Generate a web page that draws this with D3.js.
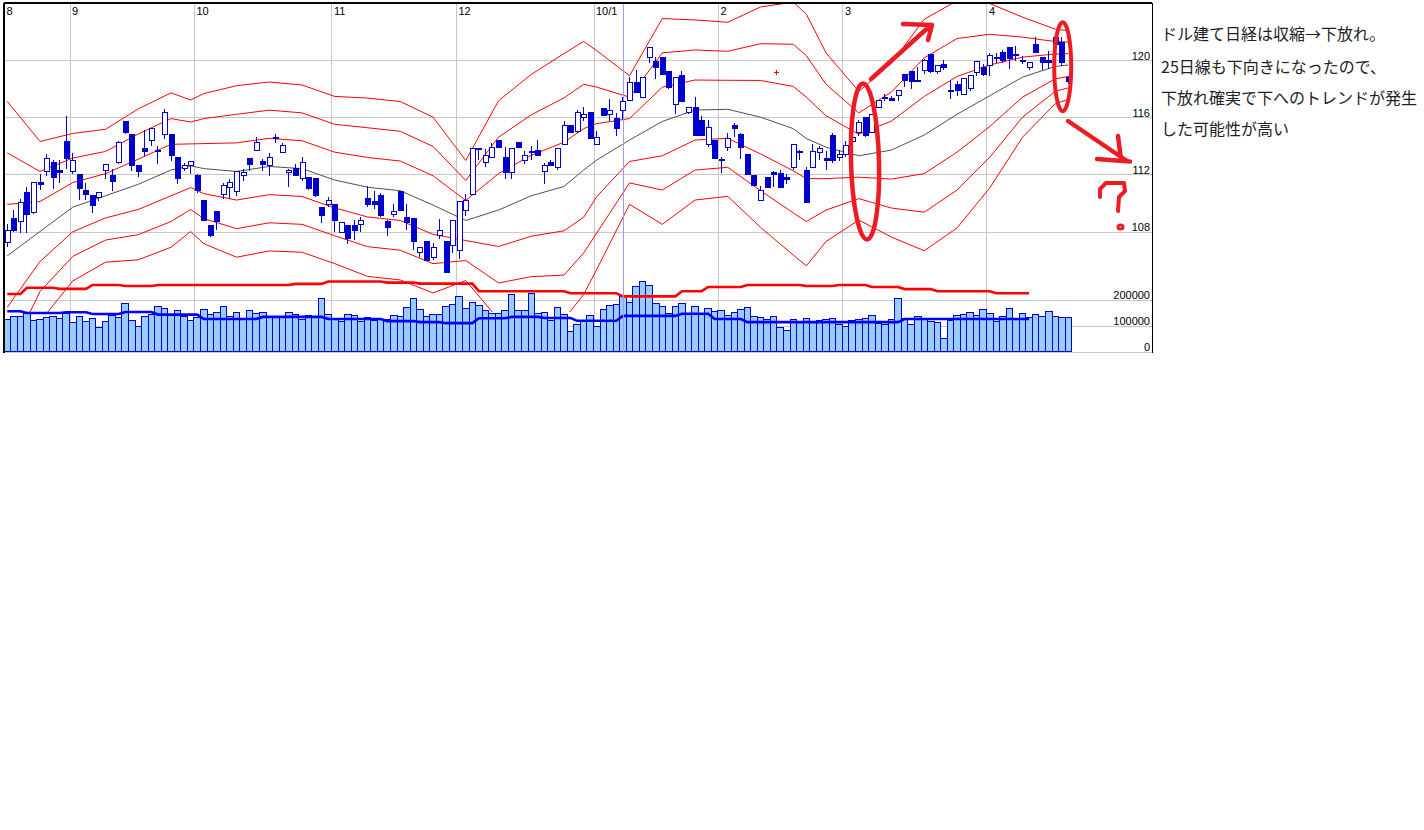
<!DOCTYPE html>
<html><head><meta charset="utf-8">
<script src="https://cdn.jsdelivr.net/npm/d3@7"></script>
<style>body{margin:0;background:#fff;}svg{display:block;}</style>
</head><body>
<script>
// ---------------- DATA ----------------
const monthIdx = [0,10,29,50,69,90,109,128,150];
const monthLabels = ["8","9","10","11","12","10/1","2","3","4"];
const priceTicks = [108,112,116,120];
const volumeTicks = [0,100000,200000];

const openP = [
107.2,108.9,108.7,110.7,109.3,111.4,112.2,112.8,112.3,114.3,
112.2,112.0,110.9,110.5,110.4,112.3,111.9,112.8,115.7,114.8,
112.6,113.8,114.4,113.7,114.8,114.8,113.2,112.4,112.6,111.9,
110.2,108.4,109.4,110.6,111.1,110.8,111.9,113.1,113.7,112.9,
112.6,114.5,113.5,112.1,112.4,111.7,111.8,111.7,109.7,109.9,
109.9,107.9,108.4,108.4,108.5,110.3,110.1,110.5,108.7,109.2,
110.8,109.0,108.9,106.5,107.3,106.2,107.7,107.3,107.0,106.7,
109.5,110.6,113.75,112.8,113.2,114.4,113.2,112.1,114.2,113.0,
113.55,113.7,112.2,112.8,112.5,114.1,115.4,115.0,116.0,116.3,
114.1,116.6,116.2,115.9,116.5,117.2,118.4,117.4,120.2,119.9,
120.2,119.2,116.9,118.9,116.3,116.7,115.8,114.1,114.4,113.05,
113.9,115.4,114.8,113.4,111.9,110.2,111.8,112.1,112.05,111.8,
112.5,113.6,112.3,112.5,113.5,113.1,114.7,113.2,113.4,114.3,
114.9,116.0,114.9,116.7,117.35,117.3,117.5,119.0,119.2,118.6,
119.3,120.4,119.2,119.7,117.9,118.3,117.6,118.0,119.1,119.5,
119.6,120.15,120.5,120.9,120.35,120.0,119.5,121.05,120.2,119.95,
121.6,121.2,118.8];
const highP = [
108.5,109.5,110.3,111.1,111.4,112.0,113.4,113.0,113.0,116.1,
113.5,112.0,111.4,110.5,110.7,112.7,112.4,114.3,115.7,114.8,
112.6,115.1,115.2,114.0,116.6,114.8,113.2,112.8,112.9,112.0,
110.2,108.4,109.4,111.4,111.7,112.2,112.4,113.1,114.6,113.1,
113.5,114.8,114.2,112.4,112.7,113.2,111.8,111.7,109.7,110.4,
109.9,108.6,108.4,108.8,109.0,111.2,110.8,110.7,108.8,109.9,
110.8,109.9,108.9,106.9,107.3,107.2,108.9,107.3,108.8,110.1,
110.6,113.8,113.8,113.8,114.2,114.4,113.9,113.8,114.2,113.6,
114.0,114.4,112.8,113.0,113.8,115.7,115.4,116.5,116.7,116.3,
115.0,116.6,117.3,116.3,117.4,118.8,119.3,118.8,120.9,120.2,
120.2,119.2,118.8,119.2,116.7,117.4,116.1,115.8,114.4,113.2,
114.9,115.6,114.9,113.4,111.9,111.2,111.8,112.2,112.3,112.0,
114.1,113.7,112.5,114.1,114.0,113.6,114.9,113.7,114.3,114.6,
115.8,116.0,116.2,117.2,117.6,117.5,117.9,119.0,119.2,119.5,
120.1,120.4,119.6,120.0,118.6,118.5,118.7,118.9,119.9,119.7,
120.5,120.5,120.7,120.9,121.0,120.3,119.8,121.6,120.2,120.6,
121.7,121.6,118.9];
const lowP = [
106.9,108.0,107.9,107.9,109.2,110.9,111.9,111.0,111.4,112.4,
112.0,110.2,110.2,109.3,110.1,111.7,110.8,112.7,114.8,112.2,
111.8,113.3,114.0,112.7,114.5,112.9,111.3,112.2,112.0,110.7,
108.7,107.6,108.1,110.3,110.3,110.5,111.5,112.2,113.6,112.2,
111.9,114.2,113.5,111.1,111.9,111.5,110.9,110.4,108.6,109.7,
108.0,107.9,107.1,107.4,108.0,109.7,109.6,109.0,107.7,109.0,
109.5,108.1,106.7,106.2,106.0,106.0,107.5,105.1,106.5,106.1,
109.1,110.6,113.0,112.5,113.2,113.9,111.7,111.7,113.9,112.7,
113.0,113.3,111.3,112.6,112.3,114.1,114.9,114.9,115.7,114.5,
114.1,116.1,115.7,114.7,115.8,117.2,117.7,117.4,119.8,118.7,
119.0,118.0,116.2,117.1,116.2,114.7,114.7,113.9,113.1,112.1,
113.6,114.6,113.1,112.0,111.2,110.2,111.1,111.1,111.1,111.3,
112.3,113.0,110.0,112.5,113.0,112.3,112.8,112.9,113.2,114.3,
114.7,114.6,114.9,116.7,117.1,117.1,117.1,118.1,118.0,118.5,
119.0,119.1,119.0,119.3,117.3,117.5,117.6,117.8,118.9,118.9,
118.9,119.8,119.8,119.4,119.95,119.7,119.3,120.5,119.3,119.4,
121.0,119.6,118.3];
const closeP = [
108.1,108.1,110.0,109.2,111.4,111.3,113.1,111.8,112.1,113.1,
113.0,111.0,110.6,109.8,110.7,112.7,111.5,114.2,114.9,112.6,
112.2,113.6,115.2,113.6,116.3,113.3,111.7,112.6,112.9,110.9,
108.8,107.7,108.7,111.2,111.4,112.2,112.1,112.7,114.2,112.7,
113.2,114.6,114.0,112.3,111.9,112.8,111.0,110.5,109.1,110.2,
108.8,108.6,107.5,108.1,108.8,109.9,109.9,109.1,108.3,109.4,
109.5,108.6,107.3,106.9,106.0,106.9,108.1,105.1,108.8,110.1,
110.2,113.8,113.8,113.3,113.9,113.9,112.1,113.8,113.9,113.3,
113.6,113.3,112.6,112.6,113.8,115.4,114.9,116.3,116.2,114.5,
114.6,116.1,116.5,115.2,117.1,118.4,117.7,118.8,120.9,119.5,
119.0,118.1,118.8,117.1,116.7,114.7,114.7,115.3,113.1,112.95,
114.5,115.2,113.9,112.0,111.2,110.9,111.1,112.0,111.1,111.65,
114.1,113.5,110.0,113.6,113.8,113.0,113.0,113.4,114.0,114.6,
115.6,114.7,116.2,117.2,117.4,117.2,117.9,118.6,118.5,118.5,
120.0,119.2,119.6,119.5,117.8,117.9,118.7,118.9,119.9,119.0,
120.3,120.2,120.0,120.1,120.35,119.9,119.8,120.5,119.8,119.85,
121.1,119.8,118.5];
const volume = [
122000,134000,134000,146000,119000,123000,130000,134000,126000,146000,
110000,134000,114000,126000,94000,114000,138000,130000,186000,118000,
98000,134000,143000,174000,166000,142000,158000,134000,118000,130000,
162000,142000,150000,174000,134000,150000,126000,158000,146000,150000,
134000,134000,134000,150000,142000,122000,138000,130000,202000,142000,
126000,114000,142000,138000,114000,130000,118000,122000,122000,138000,
134000,170000,202000,162000,134000,142000,142000,174000,182000,210000,
166000,190000,178000,158000,146000,146000,158000,221000,158000,158000,
225000,146000,150000,118000,170000,142000,78000,102000,118000,138000,
98000,162000,178000,182000,210000,190000,249000,270000,253000,186000,
174000,146000,174000,186000,146000,174000,142000,166000,155000,158000,
138000,150000,162000,170000,134000,130000,122000,134000,94000,82000,
122000,110000,126000,114000,118000,122000,126000,102000,98000,118000,
122000,126000,138000,106000,102000,122000,205000,126000,102000,134000,
122000,114000,110000,50000,118000,138000,142000,150000,138000,162000,
146000,114000,134000,166000,126000,146000,130000,142000,134000,154000,
134000,130000,130000];

// volume moving average (blue), read as flat runs: [start index, end index, value]
const volMaStart = [0,3,9,13,18,23,30,39,49,58,63,67,72,77,82,87,94,103,108,113,137];
const volMaEnd   = [2,8,12,17,22,29,38,48,57,62,66,71,76,81,86,93,102,107,112,136,156];
const volMaValue = [155000,148000,151000,144000,152000,142000,125000,133000,125000,117000,113000,109000,128000,133000,129000,118000,137000,145000,125000,113000,125000];
// thick red line in the volume pane
const redStart = [0,3,8,13,18,23,44,49,58,63,72,86,94,103,107,113,122,127,132,137,142,151];
const redEnd   = [2,7,12,17,22,43,48,57,62,71,85,93,102,106,112,121,126,131,136,141,150,156];
const redValue = [221000,245000,241000,256000,252000,256000,260000,269000,265000,261000,232000,224000,212000,232000,248000,256000,252000,256000,248000,240000,232000,224000];

// Bollinger bands sampled at these candle indices
const bandIdx = [0,5,10,15,20,25,28,30,35,40,45,50,55,60,65,70,75,80,85,88,90,95,100,105,110,115,120,122,125,130,135,140,145,150,155,160,162];
const bandUp3 = [117.1,114.3,114.86,115.15,116.58,117.7,117.2,117.65,118.2,118.46,118.25,117.45,117.34,117.09,116.0,112.97,117.15,118.99,120.45,121.3,120.65,118.9,122.9,122.8,122.64,123.71,124.05,123.2,120.5,117.8,119.79,122.85,124.15,123.95,123.0,122.16,122.05];
const bandUp2 = [113.5,112.2,113.14,113.6,114.82,115.9,115.66,115.9,116.2,116.49,116.3,115.5,115.26,115.01,113.95,111.57,114.6,116.16,117.35,118.3,118.1,117.4,120.5,120.7,120.61,121.14,121.1,120.3,118.3,116.3,117.76,120.15,121.5,121.8,121.6,121.29,121.25];
const bandUp1 = [109.9,110.1,111.42,112.05,113.06,114.1,114.13,114.15,114.2,114.52,114.35,113.55,113.18,112.93,111.9,110.17,112.05,113.33,114.25,115.2,115.55,115.9,118.1,118.6,118.58,118.57,118.15,117.4,116.1,114.8,115.73,117.45,118.85,119.65,120.2,120.42,120.45];
const bandMid = [106.3,108.0,109.7,110.5,111.3,112.3,112.6,112.4,112.2,112.55,112.4,111.6,111.1,110.85,109.85,108.77,109.5,110.5,111.15,112.3,113.0,114.4,115.7,116.5,116.55,116.0,115.2,114.5,113.9,113.3,113.7,114.75,116.2,117.5,118.8,119.55,119.65];
const bandDn1 = [102.7,105.9,107.98,108.95,109.54,110.5,111.07,110.65,110.2,110.58,110.45,109.65,109.02,108.77,107.8,107.37,106.95,107.67,108.05,109.0,110.45,112.9,113.3,114.4,114.52,113.43,112.25,111.7,111.7,111.8,111.67,112.05,113.55,115.35,117.4,118.68,118.85];
const bandDn2 = [99.1,103.8,106.26,107.4,107.78,108.7,109.54,108.9,108.2,108.61,108.5,107.7,106.94,106.69,105.75,105.97,104.4,104.84,104.95,106.5,107.9,111.4,110.9,112.3,112.49,110.86,109.3,108.7,109.5,110.3,109.64,109.35,110.9,113.2,116.0,117.81,118.05];
const bandDn3 = [95.5,101.7,104.54,105.85,106.02,106.9,108.0,107.15,106.2,106.64,106.55,105.75,104.86,104.61,103.7,104.57,101.85,102.01,101.85,103.6,105.35,109.9,108.5,110.2,110.46,108.29,106.35,105.6,107.3,108.8,107.61,106.65,108.25,111.05,114.6,116.94,117.25];

const cursorIndex = 94;
const noteLines = ["ドル建て日経は収縮→下放れ。","25日線も下向きになったので、","下放れ確実で下へのトレンドが発生","した可能性が高い"];

// ---------------- DRAWING ----------------
const W = 1424, H = 830;
const svg = d3.select("body").append("svg").attr("width", W).attr("height", H).style("background", "#fff");
const N = openP.length;
const pLeft = 4, pRight = 1152, pTop = 3, priceBottom = 312, volBase = 351.5, step = 6.55;
const x = d3.scaleLinear().domain([0, N]).range([pLeft, pLeft + step * N]);
const xc = i => x(i + 0.5);
const y = d3.scaleLinear().domain([108, 120]).range([231.5, 60]);
const yv = d3.scaleLinear().domain([0, 200000]).range([volBase, 299.5]);

svg.append("defs").append("clipPath").attr("id", "pclip")
  .append("rect").attr("x", pLeft).attr("y", pTop).attr("width", pRight - pLeft).attr("height", priceBottom - pTop);

// grid
const grid = svg.append("g").attr("stroke", "#c8c8c8").attr("stroke-width", 1).attr("shape-rendering", "crispEdges");
grid.selectAll(".gv").data(monthIdx.slice(1)).join("line").attr("class", "gv")
  .attr("x1", d => Math.round(x(d)) + 0.5).attr("x2", d => Math.round(x(d)) + 0.5)
  .attr("y1", pTop).attr("y2", volBase);
grid.selectAll(".gp").data(priceTicks).join("line").attr("class", "gp")
  .attr("x1", pLeft).attr("x2", pRight).attr("y1", d => Math.round(y(d)) + 0.5).attr("y2", d => Math.round(y(d)) + 0.5);
grid.selectAll(".gvol").data(volumeTicks).join("line").attr("class", "gvol")
  .attr("x1", pLeft).attr("x2", pRight).attr("y1", d => Math.round(yv(d)) + 0.5).attr("y2", d => Math.round(yv(d)) + 0.5);

// bands
const bandLine = d3.line().x(d => xc(d[0])).y(d => y(d[1]));
const bands = svg.append("g").attr("clip-path", "url(#pclip)").attr("fill", "none");
[bandUp3, bandUp2, bandUp1, bandDn1, bandDn2, bandDn3].forEach(arr => {
  bands.append("path").attr("d", bandLine(bandIdx.map((k, j) => [k, arr[j]])))
    .attr("stroke", "#ff0000").attr("stroke-width", 1);
});
bands.append("path").attr("d", bandLine(bandIdx.map((k, j) => [k, bandMid[j]])))
  .attr("stroke", "#505050").attr("stroke-width", 1);

// volume bars
svg.append("g").attr("shape-rendering", "crispEdges").selectAll("rect").data(volume).join("rect")
  .attr("x", (d, i) => x(i)).attr("width", step)
  .attr("y", d => yv(d)).attr("height", d => yv(0) - yv(d))
  .attr("fill", "#99ccff").attr("stroke", "#0000cc").attr("stroke-width", 1);

// volume lines
const runPts = (s, e, v) => s.flatMap((st, j) => [[st, v[j]], [e[j], v[j]]]);
const volLine = d3.line().x(d => xc(d[0])).y(d => yv(d[1]));
svg.append("path").attr("d", volLine(runPts(redStart, redEnd, redValue)))
  .attr("fill", "none").attr("stroke", "#ff0000").attr("stroke-width", 2.6);
svg.append("path").attr("d", volLine(runPts(volMaStart, volMaEnd, volMaValue)))
  .attr("fill", "none").attr("stroke", "#0000ff").attr("stroke-width", 2.6);

// cursor line
svg.append("line").attr("x1", Math.round(xc(cursorIndex)) + 0.5).attr("x2", Math.round(xc(cursorIndex)) + 0.5)
  .attr("y1", pTop).attr("y2", volBase).attr("stroke", "#9c9cf4").attr("stroke-width", 1);

// candles
const candles = svg.append("g").attr("clip-path", "url(#pclip)").attr("shape-rendering", "crispEdges");
const idx = d3.range(N);
candles.selectAll(".wick").data(idx).join("line").attr("class", "wick")
  .attr("x1", i => Math.floor(xc(i)) + 0.5).attr("x2", i => Math.floor(xc(i)) + 0.5)
  .attr("y1", i => y(highP[i])).attr("y2", i => y(lowP[i]))
  .attr("stroke", "#0000cc").attr("stroke-width", 1);
candles.selectAll(".body").data(idx).join("rect").attr("class", "body")
  .attr("x", i => Math.floor(xc(i)) - 2)
  .attr("width", 5)
  .attr("y", i => y(Math.max(openP[i], closeP[i])))
  .attr("height", i => Math.max(1, Math.abs(y(openP[i]) - y(closeP[i]))))
  .attr("fill", i => closeP[i] < openP[i] ? "#0000cc" : "#ffffff")
  .attr("stroke", "#0000cc").attr("stroke-width", 1);

// frame
const frame = svg.append("g").attr("stroke", "#000").attr("shape-rendering", "crispEdges");
frame.append("line").attr("x1", pLeft).attr("x2", pRight).attr("y1", pTop).attr("y2", pTop).attr("stroke-width", 1.5);
frame.append("line").attr("x1", pLeft).attr("x2", pLeft).attr("y1", pTop).attr("y2", volBase + 1).attr("stroke-width", 1.5);
frame.append("line").attr("x1", pRight).attr("x2", pRight).attr("y1", pTop).attr("y2", volBase + 1).attr("stroke-width", 1);

// axes labels
const fontFam = "'Liberation Sans', Arial, sans-serif";
const mAxis = svg.append("g").attr("transform", `translate(0,${pTop})`)
  .call(d3.axisBottom(x).tickValues(monthIdx).tickSize(0).tickPadding(4).tickFormat((d, i) => monthLabels[i]));
mAxis.select(".domain").remove();
mAxis.selectAll("text").attr("text-anchor", "start").attr("x", 2)
  .style("font-family", fontFam).style("font-size", "11px").attr("fill", "#000");

const pAxis = svg.append("g").attr("transform", `translate(${pRight},0)`)
  .call(d3.axisLeft(y).tickValues(priceTicks).tickSize(0).tickPadding(2));
pAxis.select(".domain").remove();
pAxis.selectAll("text").attr("dy", null).attr("y", -1)
  .style("font-family", fontFam).style("font-size", "11px").attr("fill", "#000");

const vAxis = svg.append("g").attr("transform", `translate(${pRight},0)`)
  .call(d3.axisLeft(yv).tickValues(volumeTicks).tickSize(0).tickPadding(2).tickFormat(d3.format("d")));
vAxis.select(".domain").remove();
vAxis.selectAll("text").attr("dy", null).attr("y", -1)
  .style("font-family", fontFam).style("font-size", "11px").attr("fill", "#000");

// small red marker
svg.append("path").attr("d", "M774,72.5h5M776.5,70v5").attr("stroke", "#ff0000").attr("stroke-width", 1);

// hand-drawn annotations
const ann = svg.append("g").attr("fill", "none").attr("stroke", "#ed1c24").attr("stroke-width", 4.5)
  .attr("stroke-linecap", "round").attr("stroke-linejoin", "round");
ann.append("ellipse").attr("cx", 865).attr("cy", 161.5).attr("rx", 14).attr("ry", 78)
  .attr("transform", "rotate(-1.5 865 161.5)");
ann.append("path").attr("d", "M871,79 L931,25 M903,24 L932,25 L928,40");
ann.append("ellipse").attr("cx", 1062.7).attr("cy", 66.7).attr("rx", 8.5).attr("ry", 44.5).attr("stroke-width", 4);
ann.append("path").attr("d", "M1068,121 L1127,161 M1097,159 L1130,161.5 M1118,136 L1121,160");
ann.append("path").attr("d", "M1100,197 L1100,189 L1106,183 L1124,183 L1125,191 L1119,197 L1118,211").attr("stroke-width", 4);
ann.append("ellipse").attr("cx", 1120.5).attr("cy", 227).attr("rx", 2.5).attr("ry", 2).attr("stroke-width", 3);

// notes
const notes = svg.append("g").style("font-family", "'Noto Sans CJK JP', sans-serif").style("font-size", "16px").attr("fill", "#222");
const noteY = [40, 72.5, 103.5, 135];
notes.selectAll("text").data(noteLines).join("text")
  .attr("x", 1161).attr("y", (d, i) => noteY[i]).text(d => d);
</script>
</body></html>
